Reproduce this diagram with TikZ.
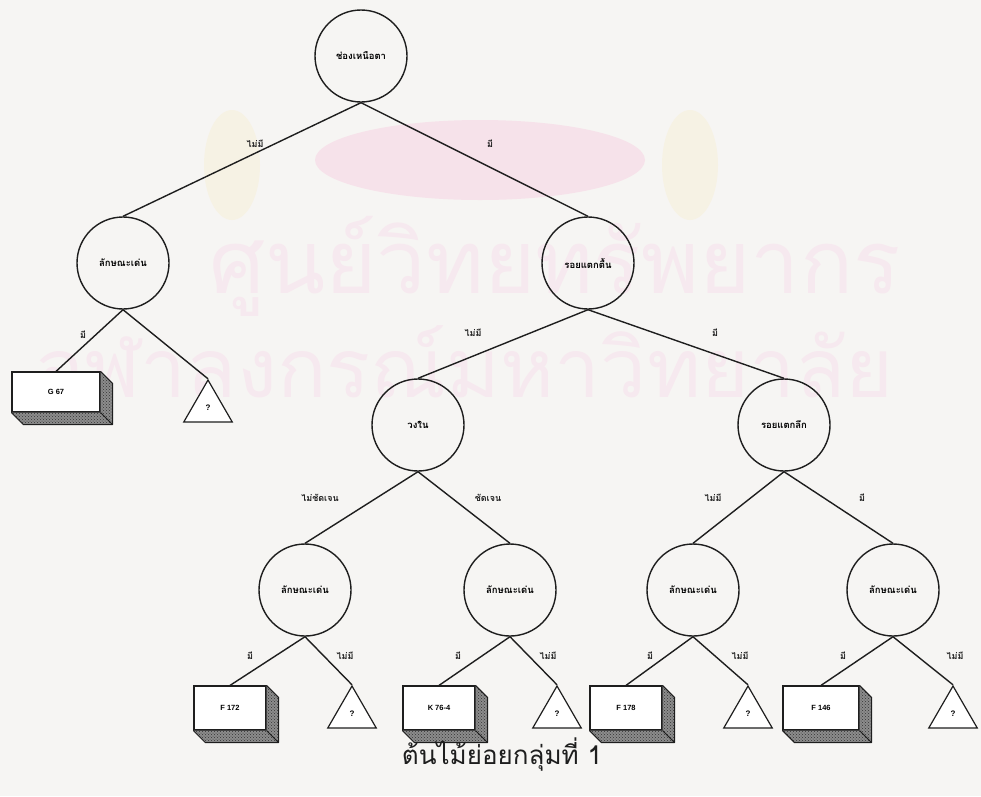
\documentclass[tikz,border=0pt]{standalone}
\usepackage{fontspec}
\setmainfont{Liberation Sans}
\newfontfamily\thai[Script=Thai]{Loma}
\usetikzlibrary{shapes.geometric,calc,patterns}
\definecolor{paper}{RGB}{246,245,243}
\definecolor{wm}{RGB}{246,233,239}
\definecolor{wmgold}{RGB}{246,242,228}
\definecolor{wmpink}{RGB}{246,226,234}
\definecolor{ink}{RGB}{30,30,30}
\definecolor{shadebox}{RGB}{140,140,140}
\begin{document}
\begin{tikzpicture}[x=1pt,y=-1pt,
 every node/.style={inner sep=0pt},
 qnode/.style={circle,draw=ink,line width=1.4pt,minimum size=92pt,font=\thai\bfseries\fontsize{9.5}{10}\selectfont},
 leaf/.style={rectangle,draw=ink,fill=white,line width=1.2pt,minimum width=72pt,minimum height=44pt,font=\bfseries\fontsize{7.5}{8}\selectfont},
 unk/.style={regular polygon,regular polygon sides=3,draw=ink,fill=white,line width=1.2pt,minimum size=56pt,font=\bfseries\fontsize{8}{9}\selectfont},
 lbl/.style={font=\thai\bfseries\fontsize{9}{10}\selectfont,text=ink},
 conn/.style={draw=ink,line width=1.4pt},
 depth/.style={pattern=crosshatch dots,pattern color=black!80,line join=round}]
\fill[paper] (0,0) rectangle (981,796);
\useasboundingbox (0,0) rectangle (981,796);
% faint watermark
\fill[wmpink] (480,160) ellipse [x radius=165, y radius=40];
\fill[wmgold] (232,165) ellipse [x radius=28, y radius=55];
\fill[wmgold] (690,165) ellipse [x radius=28, y radius=55];
\node[font=\thai\fontsize{88}{88}\selectfont,text=wm] (wma) at (555,266) {ศูนย์วิทยทรัพยากร};
\node[font=\thai\fontsize{82}{82}\selectfont,text=wm] (wmb) at (465,372) {จุฬาลงกรณ์มหาวิทยาลัย};
% decision nodes
\node[qnode] (root) at (361,56) {ช่องเหนือตา};
\node[qnode] (A) at (123,263) {ลักษณะเด่น};
\node[qnode] (B) at (588,263) {รอยแตกตื้น};
\node[qnode] (C) at (418,425) {วงใน};
\node[qnode] (D) at (784,425) {รอยแตกลึก};
\node[qnode] (E1) at (305,590) {ลักษณะเด่น};
\node[qnode] (E2) at (510,590) {ลักษณะเด่น};
\node[qnode] (E3) at (693,590) {ลักษณะเด่น};
\node[qnode] (E4) at (893,590) {ลักษณะเด่น};
% leaves
\node[leaf,minimum width=88pt,minimum height=40pt] (G67) at (56,392) {G 67};
\node[leaf] (F172) at (230,708) {F 172};
\node[leaf] (K76) at (439,708) {K 76-4};
\node[leaf] (F178) at (626,708) {F 178};
\node[leaf,minimum width=76pt] (F146) at (821,708) {F 146};
\foreach \b in {G67,F172,K76,F178,F146}{
  \fill[shadebox] (\b.north east) -- ($(\b.north east)+(12,12)$) -- ($(\b.south east)+(12,12)$)
     -- ($(\b.south west)+(12,12)$) -- (\b.south west) -- (\b.south east) -- cycle;
  \path[depth] (\b.north east) -- ($(\b.north east)+(12,12)$) -- ($(\b.south east)+(12,12)$)
     -- ($(\b.south west)+(12,12)$) -- (\b.south west) -- (\b.south east) -- cycle;
  \draw[ink,line width=1pt,line join=round] (\b.north east) -- ($(\b.north east)+(12,12)$) -- ($(\b.south east)+(12,12)$)
     -- ($(\b.south west)+(12,12)$) -- (\b.south west);
  \draw[ink,line width=1pt] (\b.south east) -- ($(\b.south east)+(12,12)$);
}
\node[unk] (t0) at (208,408) {?};
\node[unk] (t1) at (352,714) {?};
\node[unk] (t2) at (557,714) {?};
\node[unk] (t3) at (748,714) {?};
\node[unk] (t4) at (953,714) {?};
% connectors
\draw[conn] (root.south) -- (A.north);
\draw[conn] (root.south) -- (B.north);
\draw[conn] (A.south) -- (G67.north);
\draw[conn] (A.south) -- (t0.corner 1);
\draw[conn] (B.south) -- (C.north);
\draw[conn] (B.south) -- (D.north);
\draw[conn] (C.south) -- (E1.north);
\draw[conn] (C.south) -- (E2.north);
\draw[conn] (D.south) -- (E3.north);
\draw[conn] (D.south) -- (E4.north);
\draw[conn] (E1.south) -- (F172.north);
\draw[conn] (E1.south) -- (t1.corner 1);
\draw[conn] (E2.south) -- (K76.north);
\draw[conn] (E2.south) -- (t2.corner 1);
\draw[conn] (E3.south) -- (F178.north);
\draw[conn] (E3.south) -- (t3.corner 1);
\draw[conn] (E4.south) -- (F146.north);
\draw[conn] (E4.south) -- (t4.corner 1);
% edge labels
\node[lbl] (l1) at (255,144) {ไม่มี};
\node[lbl] (l2) at (490,144) {มี};
\node[lbl] (l3) at (83,335) {มี};
\node[lbl] (l4) at (473,333) {ไม่มี};
\node[lbl] (l5) at (715,333) {มี};
\node[lbl] (l6) at (320,498) {ไม่ชัดเจน};
\node[lbl] (l7) at (488,498) {ชัดเจน};
\node[lbl] (l8) at (713,498) {ไม่มี};
\node[lbl] (l9) at (862,498) {มี};
\node[lbl] (l10) at (250,656) {มี};
\node[lbl] (l11) at (345,656) {ไม่มี};
\node[lbl] (l12) at (458,656) {มี};
\node[lbl] (l13) at (548,656) {ไม่มี};
\node[lbl] (l14) at (650,656) {มี};
\node[lbl] (l15) at (740,656) {ไม่มี};
\node[lbl] (l16) at (843,656) {มี};
\node[lbl] (l17) at (955,656) {ไม่มี};
% caption
\node[font=\thai\fontsize{26}{28}\selectfont,text=ink] (title) at (502,755) {ต้นไม้ย่อยกลุ่มที่ 1};
\end{tikzpicture}
\end{document}
